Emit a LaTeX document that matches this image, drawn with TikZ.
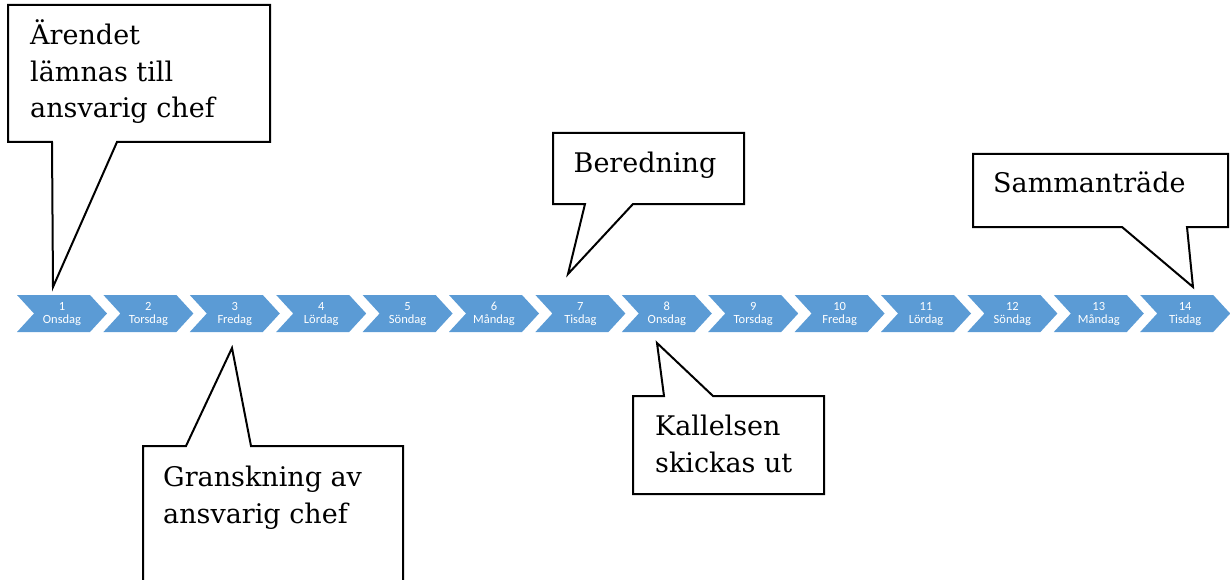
\documentclass[tikz,border=0pt]{standalone}
\usepackage{fontspec}
\setmainfont{DejaVu Serif}
\newfontfamily\dayfont{Carlito}
\usepackage{xcolor}
\definecolor{chevblue}{HTML}{5B9BD5}

\begin{document}
\begin{tikzpicture}[x=1pt, y=-1pt,
    callout/.style={draw=black, line width=2pt, line join=miter, fill=white},
    calltext/.style={anchor=base west, inner sep=0pt, align=left, font=\fontsize{27}{36.5}\selectfont},
    daytext/.style={text=white, inner sep=0pt, align=center, font=\dayfont\fontsize{12.5}{13.5}\selectfont}]
    \useasboundingbox (0,0) rectangle (1230,580);

    % Timeline of days
    \foreach \i/\dname in {1/Onsdag, 2/Torsdag, 3/Fredag, 4/Lördag, 5/Söndag, 6/Måndag, 7/Tisdag,
                           8/Onsdag, 9/Torsdag, 10/Fredag, 11/Lördag, 12/Söndag, 13/Måndag, 14/Tisdag} {
        \pgfmathsetmacro{\xs}{17+(\i-1)*86.4}
        \fill[chevblue] (\xs,295) -- ++(73,0) -- ++(17,18.5) -- ++(-17,18.5) -- ++(-73,0) -- ++(17,-18.5) -- cycle;
        \node[daytext] (d\i) at (\xs+45,314) {\i\\\dname};
    }

    % Callouts above the timeline (base = last line)
    \coordinate (tip1) at (53,287);
    \draw[callout] (8,5) -- (270,5) -- (270,142) -- (117,142) -- (tip1) -- (52,142) -- (8,142) -- cycle;
    \node[calltext] (c1) at (30,118) {Ärendet\\lämnas till\\ansvarig chef};

    \coordinate (tip7) at (568,274);
    \draw[callout] (553,133) -- (744,133) -- (744,204) -- (633,204) -- (tip7) -- (585,204) -- (553,204) -- cycle;
    \node[calltext, anchor=base] (c7) at (645,173) {Beredning};

    \coordinate (tip14) at (1193,287);
    \draw[callout] (973,154) -- (1228,154) -- (1228,227) -- (1187,227) -- (tip14) -- (1122,227) -- (973,227) -- cycle;
    \node[calltext] (c14) at (993,193) {Sammanträde};

    % Callouts below the timeline
    \coordinate (tip3) at (232,348);
    \draw[callout] (143,585) -- (143,446) -- (186,446) -- (tip3) -- (251,446) -- (403,446) -- (403,585);
    \node[calltext] (c3) at (163,523) {Granskning av\\ansvarig chef};

    \coordinate (tip8) at (657,343);
    \draw[callout] (633,396) -- (664,396) -- (tip8) -- (713,396) -- (824,396) -- (824,494) -- (633,494) -- cycle;
    \node[calltext] (c8) at (655,472) {Kallelsen\\skickas ut};
\end{tikzpicture}
\end{document}
